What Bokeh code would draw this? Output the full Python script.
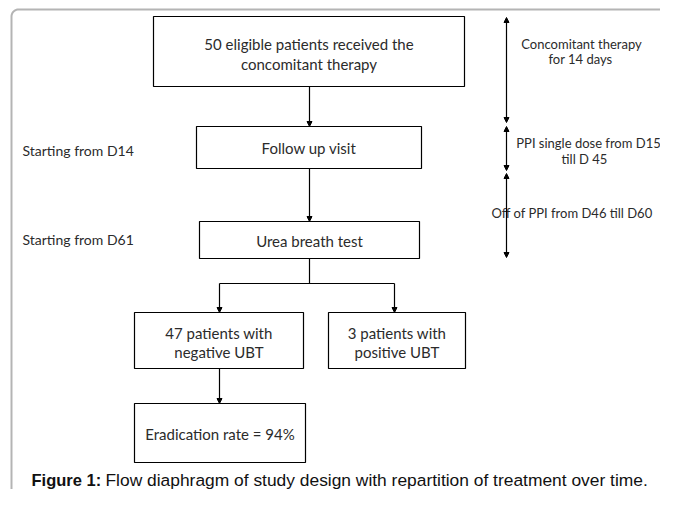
import numpy as np
from bokeh.plotting import figure
from bokeh.models import Range1d, Arrow, NormalHead
from bokeh.core.properties import value
from bokeh.embed import file_html
from bokeh.resources import INLINE

# ---- content ----
box_lines = [
    ["50 eligible patients received the", "concomitant therapy"],
    ["Follow up visit"],
    ["Urea breath test"],
    ["47 patients with", "negative UBT"],
    ["3 patients with", "positive UBT"],
    ["Eradication rate = 94%"],
]
left_labels = ["Starting from D14", "Starting from D61"]
right_labels = [
    ["Concomitant therapy", "for 14 days"],
    ["PPI single dose from D15", "till D 45"],
    ["Off of PPI from D46 till D60"],
]
caption_bold = "Figure 1:"
caption_text = "Flow diaphragm of study design with repartition of treatment over time."

# ---- layout (picture-pixel coordinates) ----
box_left = [153, 196, 199, 134, 328, 134]
box_right = [464, 421, 419, 303, 465, 305]
box_top = [16, 126, 221, 312, 312, 403]
box_bottom = [86, 168, 258, 368, 368, 462]
box_text_y = [[43, 63], [147], [240], [332, 351], [332, 351], [433]]

left_label_y = [150, 239]
right_label_pos = [[(581, 43), (580, 58)], [(588, 142), (584, 158)], [(491, 212)]]
right_label_align = [["center", "center"], ["center", "center"], ["left"]]

W, H = 660, 489
p = figure(width=W, height=H, output_backend="svg", toolbar_location=None,
           x_range=Range1d(0, W), y_range=Range1d(H, 0),
           min_border=0, outline_line_color=None)
p.axis.visible = False
p.grid.visible = False
p.background_fill_color = "white"
p.border_fill_color = "white"

# outer rounded frame (top-left corner of the panel)
r = 7
fx, fy = 11, 9
ang = np.linspace(np.pi, 1.5 * np.pi, 12)
cx_, cy_ = fx + r, fy + r
corner_x = list(cx_ + r * np.cos(ang))
corner_y = list(cy_ + r * np.sin(ang))
frame_x = [fx, fx] + corner_x + [W + 20]
frame_y = [H + 20, cy_] + corner_y + [fy]
p.line(frame_x, frame_y, line_color="#b4b4b4", line_width=2)

# boxes
p.quad(left=box_left, right=box_right, top=box_top, bottom=box_bottom,
       fill_color="white", line_color="black", line_width=1.2)

font = value("Lato")
tcol = "#2b2b2b"
for lines, ys, l, rr in zip(box_lines, box_text_y, box_left, box_right):
    cx = (l + rr) / 2
    p.text(x=[cx] * len(lines), y=ys, text=lines, text_font=font,
           text_font_size="15px", text_align="center", text_baseline="middle",
           text_color=tcol)

p.text(x=[22, 22], y=left_label_y, text=left_labels, text_font=font,
       text_font_size="14px", text_align="left", text_baseline="middle",
       text_color=tcol)

for lines, pos, aligns in zip(right_labels, right_label_pos, right_label_align):
    for t, q, a in zip(lines, pos, aligns):
        p.text(x=[q[0]], y=[q[1]], text=[t], text_font=font,
               text_font_size="13px", text_align=a,
               text_baseline="middle", text_color=tcol)

# connectors
def arrow(x0, y0, x1, y1, both=False):
    end = NormalHead(size=5, fill_color="black", line_color="black", line_width=1)
    start = NormalHead(size=5, fill_color="black", line_color="black", line_width=1) if both else None
    p.add_layout(Arrow(x_start=x0, y_start=y0, x_end=x1, y_end=y1,
                       end=end, start=start, line_color="black", line_width=1.2))

cx1 = 309
arrow(cx1, box_bottom[0], cx1, box_top[1])
arrow(cx1, box_bottom[1], cx1, box_top[2])
split_y = 283
c4 = 219
c5 = 394
p.line([cx1, cx1], [box_bottom[2], split_y], line_color="black", line_width=1.2)
p.line([c4, c5], [split_y, split_y], line_color="black", line_width=1.2)
arrow(c4, split_y, c4, box_top[3])
arrow(c5, split_y, c5, box_top[4])
arrow(c4, box_bottom[3], c4, box_top[5])

# timeline double arrows
tx = 506
arrow(tx, 17, tx, 122, both=True)
arrow(tx, 126, tx, 170, both=True)
arrow(tx, 173, tx, 257, both=True)

# caption
cap_y = 479
p.text(x=[31], y=[cap_y], text=[caption_bold], text_font=value("Liberation Sans"),
       text_font_size="16.5px", text_font_style="bold", text_align="left",
       text_baseline="middle", text_color="#111111")
p.text(x=[105], y=[cap_y], text=[caption_text], text_font=value("Liberation Sans"),
       text_font_size="17.4px", text_align="left", text_baseline="middle",
       text_color="#111111")

open("out.html", "w").write(file_html(p, INLINE))
